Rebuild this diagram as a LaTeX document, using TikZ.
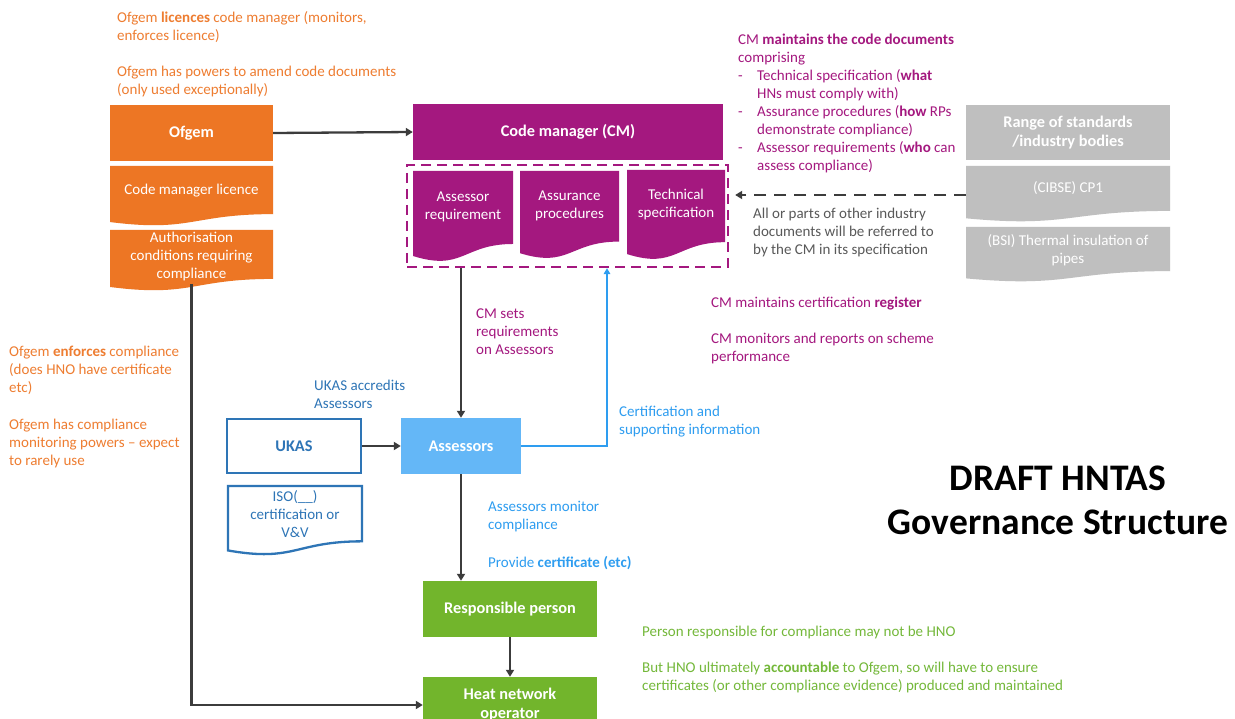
\documentclass[tikz,border=0pt]{standalone}
\usepackage{fontspec}
\setmainfont{Carlito}
\usetikzlibrary{arrows.meta}

\definecolor{ofgemorange}{HTML}{ED7624}
\definecolor{ofgemtext}{HTML}{EE7D31}
\definecolor{cmpurple}{HTML}{A4187F}
\definecolor{rpgreen}{HTML}{72B52C}
\definecolor{greentext}{HTML}{74B83A}
\definecolor{assessblue}{HTML}{64B7F7}
\definecolor{lightblue}{HTML}{2E9DF0}
\definecolor{ukasblue}{HTML}{2E75B6}
\definecolor{stdgray}{HTML}{BFBFBF}
\definecolor{notegray}{HTML}{595959}
\definecolor{linkdark}{HTML}{3C3C3C}

% flow-chart "document" outline: #1 style, #2 left, #3 top, #4 width, #5 height
\newcommand{\docpath}[5]{%
  \path[#1] (#2,#3) -- ({#2+#4},#3) -- ({#2+#4},{#3+0.802*#5})
    .. controls ({#2+0.5*#4},{#3+0.802*#5}) and ({#2+0.5*#4},{#3+1.107*#5})
    .. (#2,{#3+0.934*#5}) -- cycle;}

\begin{document}
\begin{tikzpicture}[x=1pt,y=-1pt,
  every node/.style={font=\fontsize{15}{18}\selectfont},
  solidbox/.style={rectangle, inner sep=0, text=white, align=center,
    font=\fontsize{16.3}{19}\selectfont\bfseries},
  doctext/.style={inner sep=0, text=white, align=center},
  note/.style={anchor=north west, inner sep=0, align=left},
  conn/.style={draw=linkdark, line width=2.3pt,
    -{Triangle[length=7pt,width=8pt]}},
  blueconn/.style={draw=lightblue, line width=1.8pt,
    -{Triangle[length=6pt,width=6.5pt]}},
  stdconn/.style={draw=linkdark, line width=2.3pt, dash pattern=on 12pt off 8pt,
    -{Triangle[length=7pt,width=8pt]}},
]
\clip (0,0) rectangle (1235,719);
\fill[white] (0,0) rectangle (1235,719);

% ---------------- Ofgem column ----------------
\node[solidbox, fill=ofgemorange, minimum width=163pt, minimum height=56pt]
  (ofgem) at (191.5,133) {Ofgem};
\docpath{fill=ofgemorange}{110}{166}{163}{60}
\node[doctext] (cmlicence) at (191.5,191) {Code manager licence};
\docpath{fill=ofgemorange}{110}{230}{163}{61}
\node[doctext] (authcond) at (191.5,257) {Authorisation\\conditions requiring\\compliance};
\coordinate (authbot) at (191.5,284);

% ---------------- Code manager ----------------
\node[solidbox, fill=cmpurple, minimum width=310pt, minimum height=56pt]
  (cm) at (568,132) {Code manager (CM)};
\node[draw=cmpurple, line width=2.3pt, dash pattern=on 10pt off 6pt,
  minimum width=321pt, minimum height=102pt, inner sep=0]
  (cmdocs) at (567.5,216) {};
\docpath{fill=cmpurple}{413}{171}{100}{91}
\node[doctext] (assreq) at (463,207) {Assessor\\requirement};
\docpath{fill=cmpurple}{520}{171}{99}{88}
\node[doctext] (assproc) at (569.5,206) {Assurance\\procedures};
\docpath{fill=cmpurple}{627}{170}{98}{90}
\node[doctext] (techspec) at (676,205) {Technical\\specification};

% ---------------- standards bodies ----------------
\node[solidbox, fill=stdgray, minimum width=204pt, minimum height=55pt]
  (range) at (1068,132.5) {Range of standards\\/industry bodies};
\docpath{fill=stdgray}{966}{166}{204}{56}
\node[doctext] (cibse) at (1068,188) {(CIBSE) CP1};
\docpath{fill=stdgray}{966}{227}{204}{55}
\node[doctext] (bsi) at (1068,250) {(BSI) Thermal insulation of\\pipes};
\coordinate (stdref) at (966,195);

% ---------------- assessors and accreditation ----------------
\node[solidbox, fill=assessblue, minimum width=120pt, minimum height=56pt]
  (assessors) at (461,446) {Assessors};
\node[draw=ukasblue, line width=2.3pt, fill=white, minimum width=134pt,
  minimum height=54pt, inner sep=0, text=ukasblue,
  font=\fontsize{16.3}{19}\selectfont\bfseries]
  (ukas) at (294,446) {UKAS};
\docpath{draw=ukasblue, line width=2.3pt, fill=white}{228}{486}{134}{69}
\node[doctext, text=ukasblue] (iso) at (295,514) {ISO(\_\_)\\certification or\\V\&V};

% ---------------- responsible parties ----------------
\node[solidbox, fill=rpgreen, minimum width=174pt, minimum height=56pt]
  (rp) at (510,609) {Responsible person};
\node[solidbox, fill=rpgreen, minimum width=174pt, minimum height=56pt]
  (hno) at (510,705) {Heat network\\operator};

% ---------------- connectors ----------------
\draw[conn] (ofgem.east) -- (cm.west);
\draw[conn] (authbot) |- (hno.west);
\draw[conn] (cmdocs.south -| assessors.north) -- (assessors.north);
\draw[blueconn] (assessors.east) -| ([xshift=39.5pt]cmdocs.south);
\draw[conn] (ukas.east) -- (assessors.west);
\draw[conn] (assessors.south) -- (assessors.south |- rp.north);
\draw[conn] (rp.south) -- (hno.north);
\draw[stdconn, shorten >=6pt] (stdref) -- (stdref -| cmdocs.east);

% ---------------- annotations ----------------
\node[note, text=ofgemtext] (ofgemlic) at (117,11)
  {Ofgem \textbf{licences} code manager (monitors,\\enforces licence)};
\node[note, text=ofgemtext] (ofgemamend) at (117,66)
  {Ofgem has powers to amend code documents\\(only used exceptionally)};
\node[note, text=ofgemtext] (ofgemenf) at (9,346)
  {Ofgem \textbf{enforces} compliance\\(does HNO have certificate\\etc)};
\node[note, text=ofgemtext] (ofgemmon) at (9,419)
  {Ofgem has compliance\\monitoring powers -- expect\\to rarely use};

\node[note, text=cmpurple] (cmdocnote) at (738,34)
  {CM \textbf{maintains the code documents}\\
   comprising\\
   \makebox[19pt][l]{-}Technical specification (\textbf{what}\\
   \hspace*{19pt}HNs must comply with)\\
   \makebox[19pt][l]{-}Assurance procedures (\textbf{how} RPs\\
   \hspace*{19pt}demonstrate compliance)\\
   \makebox[19pt][l]{-}Assessor requirements (\textbf{who} can\\
   \hspace*{19pt}assess compliance)};
\node[note, text=notegray] (refnote) at (753,208)
  {All or parts of other industry\\documents will be referred to\\by the CM in its specification};
\node[note, text=cmpurple] (regnote) at (711,297)
  {CM maintains certification \textbf{register}};
\node[note, text=cmpurple] (perfnote) at (711,333)
  {CM monitors and reports on scheme\\performance};
\node[note, text=cmpurple] (setsnote) at (476,309)
  {CM sets\\requirements\\on Assessors};

\node[note, text=ukasblue] (ukasnote) at (314,380)
  {UKAS accredits\\Assessors};
\node[note, text=lightblue] (certnote) at (619,406)
  {Certification and\\supporting information};
\node[note, text=lightblue] (monnote) at (488,501)
  {Assessors monitor\\compliance};
\node[note, text=lightblue] (provnote) at (488,556)
  {Provide \textbf{certificate (etc)}};

\node[note, text=greentext] (rpnote) at (642,626)
  {Person responsible for compliance may not be HNO};
\node[note, text=greentext] (hnonote) at (642,662)
  {But HNO ultimately \textbf{accountable} to Ofgem, so will have to ensure\\
   certificates (or other compliance evidence) produced and maintained};

\node[inner sep=0, align=center, font=\fontsize{37.5}{44}\selectfont\bfseries]
  (title) at (1058,500) {DRAFT HNTAS\\Governance Structure};
\end{tikzpicture}
\end{document}
